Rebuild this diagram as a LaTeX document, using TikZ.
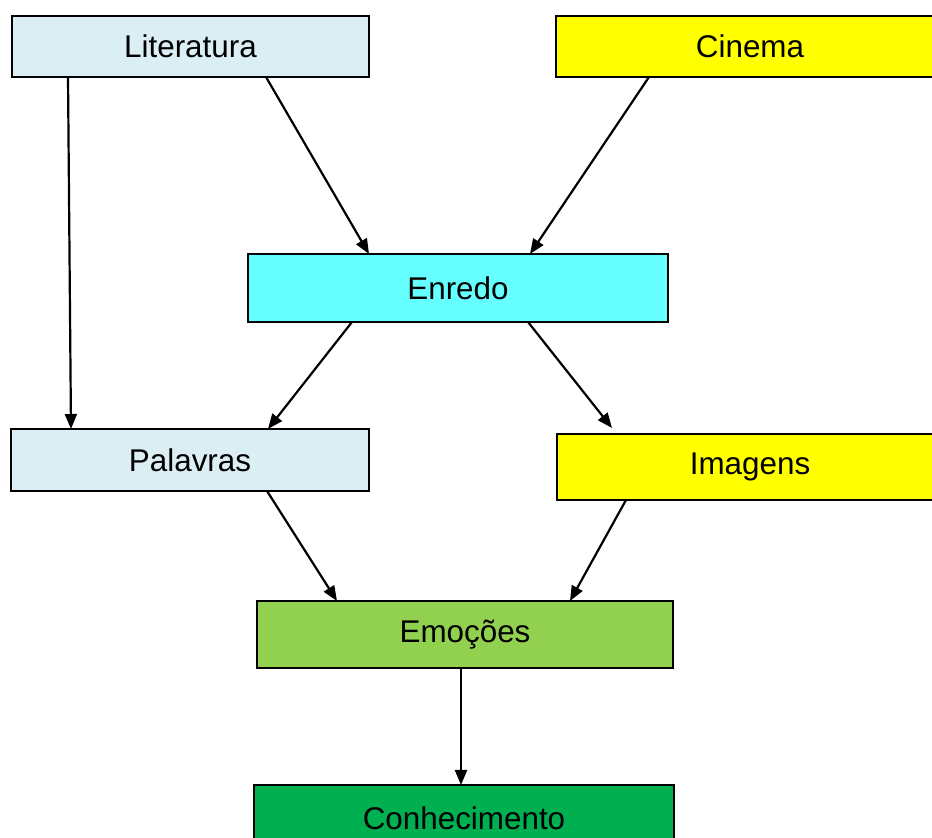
\documentclass[tikz,border=0pt]{standalone}
\usepackage{fontspec}
\setmainfont{Liberation Sans}
\usetikzlibrary{arrows.meta}
\definecolor{lblue}{HTML}{DAEEF3}
\definecolor{ylw}{HTML}{FFFF00}
\definecolor{cyanb}{HTML}{66FFFF}
\definecolor{lgreen}{HTML}{92D050}
\definecolor{dgreen}{HTML}{00B050}
\tikzset{
  box/.style={draw=black, line width=1.1pt, inner sep=0pt, outer sep=0pt, font=\fontsize{15.7}{18}\selectfont},
  arr/.style={line width=1.1pt, -{Triangle[length=7.5pt,width=6pt]}}
}
\begin{document}
\begin{tikzpicture}[x=0.5pt,y=-0.5pt]
\useasboundingbox (0,0) rectangle (932,838);
\node[box, fill=lblue, minimum width=178.5pt, minimum height=30.5pt] (lit) at (190.5,46.5) {Literatura};
\node[box, fill=ylw, minimum width=194pt, minimum height=30.5pt] (cin) at (750,46.5) {Cinema};
\node[box, fill=cyanb, minimum width=210pt, minimum height=34pt] (enr) at (458,288) {Enredo};
\node[box, fill=lblue, minimum width=179pt, minimum height=31pt] (pal) at (190,460) {Palavras};
\node[box, fill=ylw, minimum width=193pt, minimum height=33pt] (img) at (750,467) {Imagens};
\node[box, fill=lgreen, minimum width=208pt, minimum height=33.5pt] (emo) at (465,634.5) {Emoções};
\node[box, fill=dgreen, minimum width=210pt, minimum height=33.5pt] (con) at (464,818.5) {Conhecimento};
\draw[arr] ([xshift=-61.25pt]lit.south) -- ([xshift=-59.5pt]pal.north);
\draw[arr] ([xshift=37.75pt]lit.south) -- ([xshift=-44.5pt]enr.north);
\draw[arr] ([xshift=-50.5pt]cin.south) -- ([xshift=36pt]enr.north);
\draw[arr] ([xshift=-53pt]enr.south) -- ([xshift=39pt]pal.north);
\draw[arr] ([xshift=35pt]enr.south) -- ([xshift=-69pt,yshift=3pt]img.north);
\draw[arr] ([xshift=38.5pt]pal.south) -- ([xshift=-64pt]emo.north);
\draw[arr] ([xshift=-62pt]img.south) -- ([xshift=52.5pt]emo.north);
\draw[arr] ([xshift=-2pt]emo.south) -- ([xshift=-1.5pt]con.north);
\end{tikzpicture}
\end{document}
